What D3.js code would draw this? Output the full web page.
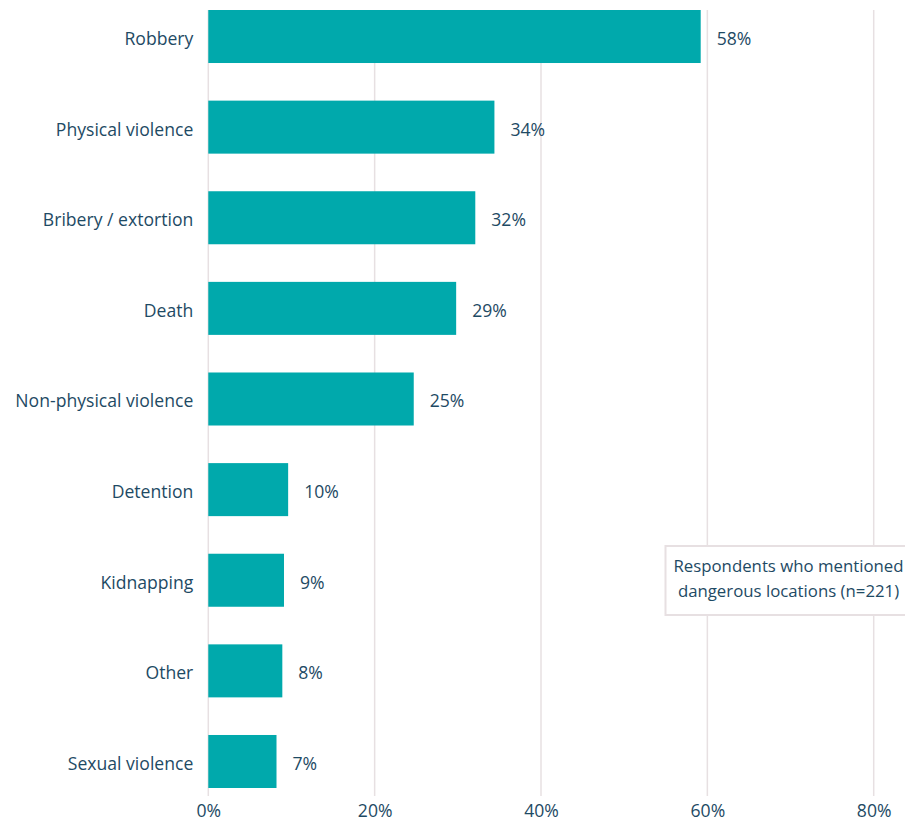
<!DOCTYPE html>
<html>
<head>
<meta charset="utf-8">
<script src="https://cdn.jsdelivr.net/npm/d3@7"></script>
<style>
  body { margin: 0; background: #fff; }
  svg { display: block; font-family: "Open Sans", "Lato", sans-serif; }
</style>
</head>
<body>
<svg id="chart" width="905" height="824"></svg>
<script>
const categories = ['Robbery', 'Physical violence', 'Bribery / extortion', 'Death',
  'Non-physical violence', 'Detention', 'Kidnapping', 'Other', 'Sexual violence'];
// bar lengths as drawn, in percent
const values = [59.2, 34.4, 32.1, 29.8, 24.7, 9.6, 9.1, 8.9, 8.2];
// percentages as printed next to the bars
const valueLabels = ['58%', '34%', '32%', '29%', '25%', '10%', '9%', '8%', '7%'];
const ticks = [0, 20, 40, 60, 80];
const legendLines = ['Respondents who mentioned', 'dangerous locations (n=221)'];

const textColor = '#1e4a64';
const barColor = '#00a9ac';
const gridColor = '#e7e0e2';
const fontSize = 17.6;

const svg = d3.select('#chart');

const x = d3.scaleLinear().domain([0, 80]).range([208.3, 873.7]);
const y = d3.scaleBand().domain(categories).range([10, 788])
  .paddingInner(0.415).paddingOuter(0);

// gridlines
svg.append('g')
  .selectAll('line')
  .data(ticks)
  .join('line')
  .attr('x1', d => x(d)).attr('x2', d => x(d))
  .attr('y1', 10).attr('y2', 796)
  .attr('stroke', gridColor)
  .attr('stroke-width', 1.5);

// bars
svg.append('g')
  .selectAll('rect')
  .data(values)
  .join('rect')
  .attr('x', x(0))
  .attr('y', (d, i) => y(categories[i]))
  .attr('width', d => x(d) - x(0))
  .attr('height', y.bandwidth())
  .attr('fill', barColor);

// value labels
svg.append('g')
  .selectAll('text')
  .data(values)
  .join('text')
  .attr('x', d => x(d) + 16)
  .attr('y', (d, i) => y(categories[i]) + y.bandwidth() / 2)
  .attr('dy', '0.48em')
  .attr('fill', textColor)
  .attr('font-size', fontSize)
  .text((d, i) => valueLabels[i]);

// category axis
const yAxis = svg.append('g')
  .attr('transform', `translate(${x(0)},0)`)
  .call(d3.axisLeft(y).tickSize(0).tickPadding(15))
  .attr('font-family', null)
  .attr('font-size', fontSize);
yAxis.select('.domain').remove();
yAxis.selectAll('text')
  .attr('dy', '0.48em')
  .attr('fill', textColor);

// value axis
const xAxis = svg.append('g')
  .attr('transform', 'translate(0,796)')
  .call(d3.axisBottom(x).tickValues(ticks).tickSize(0).tickPadding(9).tickFormat(d => d + '%'))
  .attr('font-family', null)
  .attr('font-size', fontSize);
xAxis.select('.domain').remove();
xAxis.selectAll('text')
  .attr('fill', textColor);

// legend box
const legend = svg.append('g').attr('transform', 'translate(665.5,546)');
legend.append('rect')
  .attr('width', 246).attr('height', 69)
  .attr('fill', '#fff')
  .attr('stroke', gridColor)
  .attr('stroke-width', 2);
legend.selectAll('text')
  .data(legendLines)
  .join('text')
  .attr('x', 123)
  .attr('y', (d, i) => 26 + i * 25)
  .attr('text-anchor', 'middle')
  .attr('fill', textColor)
  .attr('font-size', 16.8)
  .text(d => d);
</script>
</body>
</html>
